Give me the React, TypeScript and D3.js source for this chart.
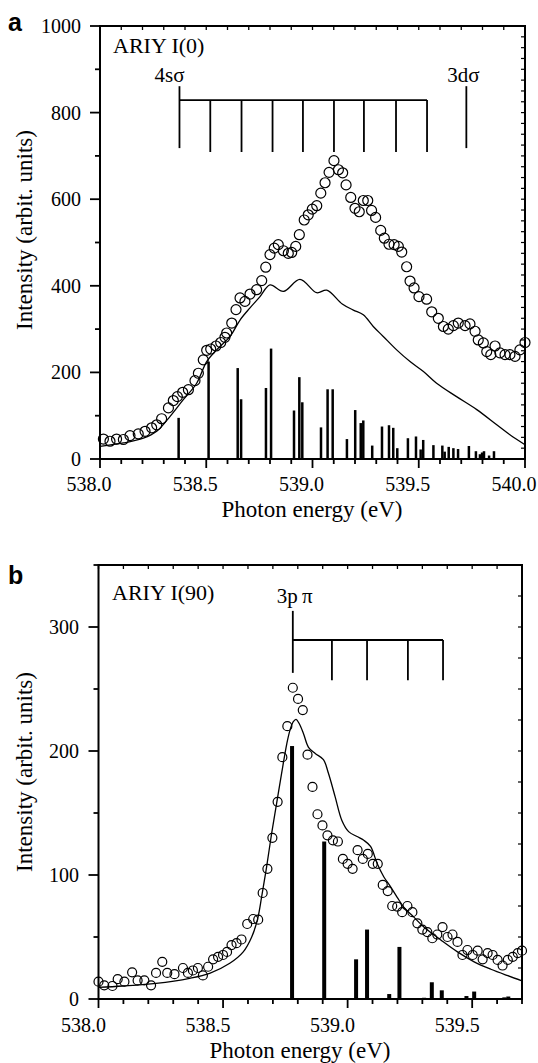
import React from "react";
import * as d3 from "d3";

// ---------- Panel a data ----------
const circlesA_E = [538.016,538.047,538.078,538.110,538.141,538.180,538.212,538.243,538.267,538.290,538.322,538.345,538.364,538.389,538.416,538.447,538.463,538.486,538.502,538.521,538.546,538.568,538.588,538.596,538.620,538.640,538.659,538.682,538.706,538.737,538.761,538.780,538.800,538.820,538.839,538.863,538.886,538.902,538.921,538.938,538.961,538.980,538.999,539.020,539.039,539.059,539.078,539.101,539.122,539.142,539.158,539.180,539.200,539.220,539.239,539.260,539.278,539.297,539.321,539.338,539.360,539.384,539.404,539.420,539.443,539.459,539.478,539.501,539.537,539.561,539.592,539.616,539.639,539.663,539.686,539.718,539.741,539.765,539.780,539.804,539.820,539.839,539.859,539.882,539.906,539.929,539.953,539.976,540.000];
const circlesA_V = [46,41,46,45,54,58,64,72,79,93,118,135,144,154,160,181,198,229,251,254,261,269,281,291,314,345,372,364,381,391,412,443,472,487,495,481,475,477,491,518,552,564,577,585,614,638,662,689,668,661,633,604,579,571,597,597,574,558,528,510,496,495,491,478,444,411,395,375,369,340,325,306,300,308,314,308,312,295,275,268,248,241,261,245,241,241,237,252,269];

const lineA_E = [538.000,538.110,538.204,538.267,538.329,538.392,538.455,538.502,538.549,538.612,538.659,538.706,538.753,538.800,538.863,538.941,539.020,539.067,539.140,539.192,539.239,539.286,539.333,539.396,539.459,539.522,539.584,539.678,539.773,539.867,539.929,540.000];
const lineA_V = [29,37,48,64,98,137,175,225,252,283,321,349,375,402,387,415,384,390,358,344,333,306,283,252,225,202,175,144,114,79,56,33];

const barsA_E = [538.370,538.511,538.648,538.664,538.781,538.805,538.913,538.938,538.952,539.040,539.071,539.095,539.162,539.201,539.227,539.239,539.281,539.327,539.360,539.380,539.399,539.449,539.487,539.509,539.521,539.569,539.611,539.622,539.641,539.663,539.685,539.736,539.769,539.788,539.798,539.807,539.831,539.854];
const barsA_V = [95,225,210,138,164,255,112,189,131,73,161,161,46,113,83,89,31,75,78,72,25,48,52,22,44,32,31,17,28,25,23,30,18,11,15,18,8,18];

const combA_E = [538.374,538.519,538.666,538.812,538.955,539.101,539.242,539.393,539.539];
const combA_levels = [829, 861, 718, 709]; // bar, first-top, first-bottom, others-bottom
const lineA3d_E = 539.724;

const xTicksA = [538.0, 538.5, 539.0, 539.5, 540.0];
const yTicksA = [0, 200, 400, 600, 800, 1000];

// ---------- Panel b data ----------
const circlesB_E = [538.000,538.023,538.056,538.077,538.104,538.135,538.157,538.184,538.211,538.231,538.256,538.276,538.305,538.339,538.359,538.379,538.399,538.419,538.440,538.460,538.480,538.500,538.516,538.534,538.554,538.574,538.597,538.621,538.641,538.659,538.678,538.698,538.719,538.738,538.758,538.780,538.801,538.820,538.839,538.859,538.879,538.899,538.919,538.941,538.961,538.981,539.000,539.020,539.040,539.061,539.081,539.101,539.121,539.141,539.161,539.179,539.199,539.219,539.240,539.260,539.280,539.300,539.320,539.340,539.360,539.381,539.401,539.421,539.441,539.461,539.481,539.502,539.522,539.542,539.562,539.582,539.602,539.622,539.643,539.663,539.683,539.700];
const circlesB_V = [14,11,10.5,16,14,21.5,15,15,11,21,30,21,20,25,21,23,25,19,26,32,34,35.5,38,43.5,45,48,60.5,64.5,64,85.5,105,130,159,195,220,251,242,233,197,171,149,140,132,128,127,113,109,105,120,113,117,109,109,92,87,75,74.5,70,75,70,61,56,54,49,52,58,50,52,46,35.5,39.5,35.5,39,32,37,35.5,31.5,27,31.5,34,37,39];

const lineB_E = [538.000,538.097,538.231,538.366,538.446,538.527,538.581,538.615,538.638,538.655,538.675,538.695,538.715,538.735,538.756,538.769,538.782,538.793,538.806,538.823,538.843,538.870,538.903,538.923,538.950,538.977,539.004,539.038,539.065,539.092,539.119,539.145,539.172,539.199,539.230,539.266,539.306,539.374,539.441,539.508,539.575,539.643,539.700];
const lineB_V = [9.4,10.5,12.6,16.7,20.7,28.8,38,50,64,82.5,106.7,133.6,157.8,182,206,217,223.6,225.5,222,214,203,198,193,182,163,144,135,131,128,123,109,98.6,90.6,82,73,66,58,47.6,38,30,24,18.8,14.7];

const barsB_E = [538.777,538.906,539.034,539.078,539.167,539.208,539.307,539.338,539.378,539.477,539.508,539.629,539.645];
const barsB_V = [204,127,32,56,4,42,1,13.5,7,2.4,6,1.3,2];

const combB_E = [538.780,538.937,539.078,539.242,539.383];
const combB_levels = [289.5, 313, 263, 257];

const xTicksB = [538.0, 538.5, 539.0, 539.5];
const yTicksB = [0, 100, 200, 300];

const SERIF = "'Liberation Serif', 'Times New Roman', Times, serif";
const SANS = "'Liberation Sans', Arial, Helvetica, sans-serif";

type PanelProps = {
  letter: string;
  letterY: number;
  xDomain: [number, number];
  xRange: [number, number];
  yDomain: [number, number];
  yRange: [number, number];
  xTicks: number[];
  yTicks: number[];
  yMinorStep: number;
  yRightStep: number;
  xLabelDx: number;
  xLabelY: number;
  yLabelRight: number;
  xTitleX: number;
  xTitleY: number;
  yTitleY: number;
  cE: number[]; cV: number[]; r: number;
  lE: number[]; lV: number[];
  bE: number[]; bV: number[]; bw: number;
  combE: number[]; combLevels: number[];
  extra?: (x: any, y: any) => React.ReactNode;
  title: string; titleX: number; titleY: number;
};

function Panel(p: PanelProps) {
  const x = d3.scaleLinear().domain(p.xDomain).range(p.xRange);
  const y = d3.scaleLinear().domain(p.yDomain).range(p.yRange);
  const [x0, x1] = p.xRange;
  const [yb, yt] = p.yRange;
  const xMinor = d3.range(Math.round(p.xDomain[0] * 10), Math.round(p.xDomain[1] * 10) + 1).map((v) => v / 10);
  const yMinor = d3.range(p.yDomain[0], p.yDomain[1] + 0.001, p.yMinorStep);
  const yRight = d3.range(p.yDomain[0], p.yDomain[1] + 0.001, p.yRightStep);
  const line = d3.line<number>()
    .x((_, i) => x(p.lE[i]))
    .y((v) => y(v))
    .curve(d3.curveCatmullRom.alpha(0.5));
  const fmtX = d3.format(".1f");
  const [lvBar, lvFirstTop, lvFirstBot, lvOtherBot] = p.combLevels;
  return (
    <g>
      <text x={8} y={p.letterY} fontFamily={SANS} fontWeight="bold" fontSize={25}>{p.letter}</text>
      {/* bars */}
      {p.bE.map((e, i) => (
        <rect key={"b" + i} x={x(e) - p.bw / 2} y={y(p.bV[i])} width={p.bw} height={y(0) - y(p.bV[i])} fill="#000" />
      ))}
      {/* curve */}
      <path d={line(p.lV) || ""} fill="none" stroke="#000" strokeWidth={1.3} />
      {/* circles */}
      {p.cE.map((e, i) => (
        <circle key={"c" + i} cx={x(e)} cy={y(p.cV[i])} r={p.r} fill="none" stroke="#000" strokeWidth={1.2} />
      ))}
      {/* comb */}
      <line x1={x(p.combE[0])} x2={x(p.combE[p.combE.length - 1])} y1={y(lvBar)} y2={y(lvBar)} stroke="#000" strokeWidth={1.8} />
      {p.combE.map((e, i) => (
        <line key={"k" + i} x1={x(e)} x2={x(e)} y1={i === 0 ? y(lvFirstTop) : y(lvBar)} y2={i === 0 ? y(lvFirstBot) : y(lvOtherBot)} stroke="#000" strokeWidth={1.8} />
      ))}
      {p.extra && p.extra(x, y)}
      <text x={p.titleX} y={p.titleY} fontFamily={SERIF} fontSize={22}>{p.title}</text>
      {/* axes frame */}
      <rect x={x0} y={yt} width={x1 - x0} height={yb - yt} fill="none" stroke="#000" strokeWidth={2} />
      {/* bottom ticks */}
      {xMinor.map((v, i) => {
        const major = p.xTicks.some((t) => Math.abs(t - v) < 1e-6);
        return <line key={"xb" + i} x1={x(v)} x2={x(v)} y1={yb} y2={yb + (major ? 9 : 5)} stroke="#000" strokeWidth={1.8} />;
      })}
      {/* top ticks */}
      {xMinor.map((v, i) => (
        <line key={"xt" + i} x1={x(v)} x2={x(v)} y1={yt} y2={yt + 4} stroke="#000" strokeWidth={1.3} />
      ))}
      {/* left ticks */}
      {yMinor.map((v, i) => {
        const major = p.yTicks.some((t) => Math.abs(t - v) < 1e-6);
        return <line key={"yl" + i} x1={x0 - (major ? 10 : 5)} x2={x0} y1={y(v)} y2={y(v)} stroke="#000" strokeWidth={1.8} />;
      })}
      {/* right ticks */}
      {yRight.map((v, i) => (
        <line key={"yr" + i} x1={x1 - 4} x2={x1} y1={y(v)} y2={y(v)} stroke="#000" strokeWidth={1.2} />
      ))}
      {/* labels */}
      {p.xTicks.map((v, i) => (
        <text key={"xl" + i} x={x(v) + p.xLabelDx} y={p.xLabelY} textAnchor="middle" fontFamily={SERIF} fontSize={20}>{fmtX(v)}</text>
      ))}
      {p.yTicks.map((v, i) => (
        <text key={"ylab" + i} x={p.yLabelRight} y={y(v)} dy="0.35em" textAnchor="end" fontFamily={SERIF} fontSize={20}>{v}</text>
      ))}
      <text x={p.xTitleX} y={p.xTitleY} textAnchor="middle" fontFamily={SERIF} fontSize={23}>Photon energy (eV)</text>
      <text transform={`translate(32,${p.yTitleY}) rotate(-90)`} textAnchor="middle" fontFamily={SERIF} fontSize={23}>Intensity (arbit. units)</text>
    </g>
  );
}

export default function App() {
  return (
    <svg width={538} height={1063} style={{ position: "absolute", left: 0, top: 0, background: "#fff" }}>
      <rect width={538} height={1063} fill="#fff" />
      <Panel
        letter="a" letterY={31}
        xDomain={[538, 540]} xRange={[100, 525]}
        yDomain={[0, 1000]} yRange={[459, 26]}
        xTicks={xTicksA} yTicks={yTicksA} yMinorStep={100} yRightStep={25}
        xLabelDx={-11} xLabelY={491} yLabelRight={81}
        xTitleX={312} xTitleY={517} yTitleY={230}
        cE={circlesA_E} cV={circlesA_V} r={5}
        lE={lineA_E} lV={lineA_V}
        bE={barsA_E} bV={barsA_V} bw={2.5}
        combE={combA_E} combLevels={combA_levels}
        title="ARIY I(0)" titleX={113} titleY={53}
        extra={(x, y) => (
          <g>
            <line x1={x(lineA3d_E)} x2={x(lineA3d_E)} y1={y(combA_levels[1])} y2={y(combA_levels[2])} stroke="#000" strokeWidth={1.8} />
            <text x={x(combA_E[0]) - 10} y={82} textAnchor="middle" fontFamily={SERIF} fontSize={21}>4sσ</text>
            <text x={x(lineA3d_E) - 3} y={82} textAnchor="middle" fontFamily={SERIF} fontSize={21}>3dσ</text>
          </g>
        )}
      />
      <Panel
        letter="b" letterY={584}
        xDomain={[538, 539.7]} xRange={[98.5, 522]}
        yDomain={[0, 350]} yRange={[999, 565]}
        xTicks={xTicksB} yTicks={yTicksB} yMinorStep={50} yRightStep={25}
        xLabelDx={-15} xLabelY={1031.5} yLabelRight={79}
        xTitleX={300} xTitleY={1058} yTitleY={772}
        cE={circlesB_E} cV={circlesB_V} r={4.5}
        lE={lineB_E} lV={lineB_V}
        bE={barsB_E} bV={barsB_V} bw={4}
        combE={combB_E} combLevels={combB_levels}
        title="ARIY I(90)" titleX={112} titleY={600}
        extra={(x) => (
          <text x={x(combB_E[0]) - 16} y={603} fontFamily={SERIF} fontSize={21}>3p{"\u2009"}π</text>
        )}
      />
    </svg>
  );
}
